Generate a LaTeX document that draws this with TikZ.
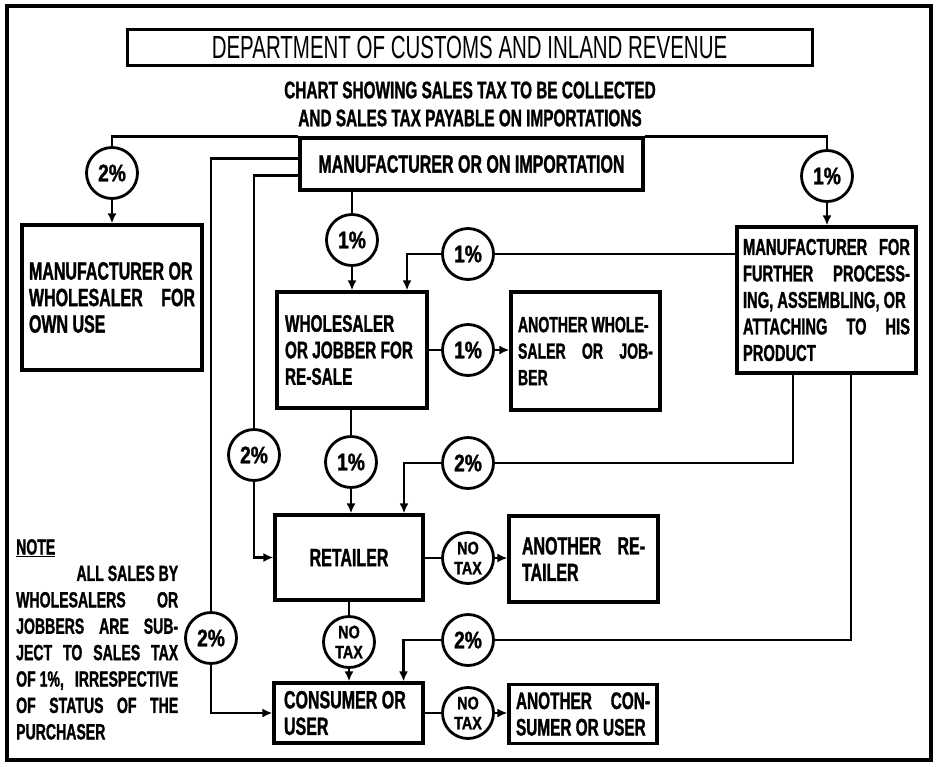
\documentclass[tikz,border=0pt]{standalone}
\usepackage{fontspec}
\setmainfont{Liberation Sans}[FakeStretch=0.64,BoldFeatures={FakeBold=1.2}]
\newfontfamily\ratefont{Liberation Sans}[FakeStretch=0.8,BoldFeatures={FakeBold=1.2}]
\usepackage{tikz}
\usetikzlibrary{arrows.meta,positioning,calc}

\newcommand{\boxfont}[1]{\fontsize{#1}{26.5}\selectfont\bfseries}

\tikzset{
	box/.style={draw,line width=3.2pt,inner ysep=0pt,align=flush left},
	rate/.style={circle,draw,line width=2.8pt,minimum size=51pt,inner sep=0pt,
		font=\ratefont\bfseries\fontsize{24}{24}\selectfont},
	notax/.style={rate,align=center,font=\ratefont\bfseries\fontsize{18}{20}\selectfont},
	link/.style={line width=2.8pt},
	arr/.style={link,-{Latex[length=10pt,width=9pt]}}
}

\begin{document}
\begin{tikzpicture}[x=1pt,y=-1pt]
	\useasboundingbox (0,0) rectangle (937,766);
	\draw[line width=4pt] (7,6) rectangle (931,760);
	
	% heading
	\node[draw,line width=3pt,minimum width=685pt,minimum height=36pt,
		font=\fontsize{32}{32}\selectfont] (title) at (469.5,47) {DEPARTMENT OF CUSTOMS AND INLAND REVENUE};
	\node[align=center,font=\fontsize{24}{28}\selectfont\bfseries] (sub) at (470,104)
		{CHART SHOWING SALES TAX TO BE COLLECTED\\AND SALES TAX PAYABLE ON IMPORTATIONS};
	
	% boxes
	\node[box,align=center,minimum width=343pt,minimum height=52pt,font=\boxfont{25}] (mfr) at (471.5,164)
		{MANUFACTURER OR ON IMPORTATION};
	\node[box,text width=166pt,inner xsep=7pt,minimum height=145pt,font=\boxfont{25}] (own) at (112,297.5)
		{MANUFACTURER OR\\WHOLESALER\hfill FOR\\OWN USE};
	\node[box,text width=134pt,inner xsep=8pt,minimum height=116pt,font=\boxfont{24}] (ws) at (352,350)
		{WHOLESALER\\OR JOBBER FOR\\RE-SALE};
	\node[box,text width=135pt,inner xsep=7pt,minimum height=118pt,font=\boxfont{22}] (aw) at (585.5,351)
		{ANOTHER WHOLE-\\SALER\hfill OR\hfill JOB-\\BER};
	\node[box,text width=167pt,inner xsep=6pt,minimum height=146pt,font=\boxfont{23}] (proc) at (826.5,300)
		{MANUFACTURER\hfill FOR\\FURTHER\hfill PROCESS-\\ING, ASSEMBLING, OR\\ATTACHING\hfill TO\hfill HIS\\PRODUCT};
	\node[box,align=center,minimum width=148pt,minimum height=85pt,font=\boxfont{25}] (ret) at (349,557.5)
		{RETAILER};
	\node[box,text width=123pt,inner xsep=13pt,minimum height=86pt,font=\boxfont{25}] (ar) at (583.5,559)
		{ANOTHER\hfill RE-\\TAILER};
	\node[box,text width=129pt,inner xsep=10pt,minimum height=60pt,font=\boxfont{25}] (cons) at (348.5,713)
		{CONSUMER OR\\USER};
	\node[box,text width=134pt,inner xsep=7pt,minimum height=59pt,font=\boxfont{24}] (acons) at (583,714)
		{ANOTHER\hfill CON-\\SUMER OR USER};
	
	% rates
	\node[rate] (c2own) at (112,173) {2\%};
	\node[rate] (c1proc) at (827,176) {1\%};
	\node[rate] (c1ws) at (352,240) {1\%};
	\node[rate] (c1fp) at (468,254) {1\%};
	\node[rate] (c1aw) at (468,350) {1\%};
	\node[rate] (c2near) at (254,455) {2\%};
	\node[rate] (c1ret) at (351,462) {1\%};
	\node[rate] (c2ret) at (468,463) {2\%};
	\node[notax] (ntret) at (468,558) {NO\\TAX};
	\node[rate] (c2far) at (211,638) {2\%};
	\node[notax] (ntcons) at (349,642) {NO\\TAX};
	\node[rate] (c2cons) at (468,640) {2\%};
	\node[notax] (ntcc) at (468,713) {NO\\TAX};
	
	% connectors from the top
	\draw[link] (mfr.north west) -| (c2own.north);
	\draw[arr] (c2own.south) -- (c2own.south |- own.north);
	\draw[link] (mfr.north east) -| (c1proc.north);
	\draw[arr] (c1proc.south) -- (c1proc.south |- proc.north);
	\draw[link] (mfr.south -| c1ws) -- (c1ws.north);
	\draw[arr] (c1ws.south) -- (c1ws.south |- ws.north);
	\draw[link] ([yshift=-22pt]mfr.north west) -| (c2far.north);
	\draw[arr] (c2far.south) |- (cons.west);
	\draw[link] ([yshift=-39pt]mfr.north west) -| (c2near.north);
	\draw[arr] (c2near.south) |- (ret.west);
	
	% wholesaler
	\draw[link] (proc.west |- c1fp) -- (c1fp.east);
	\draw[arr] (c1fp.west) -| ([xshift=55pt]ws.north);
	\draw[link] (ws.east |- c1aw) -- (c1aw.west);
	\draw[arr] (c1aw.east) -- (c1aw.east -| aw.west);
	\draw[link] (ws.south -| c1ret) -- (c1ret.north);
	\draw[arr] (c1ret.south) -- (c1ret.south |- ret.north);
	
	% retailer
	\draw[link] (c2ret.east) -| ([xshift=-33.5pt]proc.south);
	\draw[arr] (c2ret.west) -| ([xshift=55pt]ret.north);
	\draw[link] (ret.east |- ntret) -- (ntret.west);
	\draw[arr] (ntret.east) -- (ntret.east -| ar.west);
	\draw[link] (ret.south -| ntcons) -- (ntcons.north);
	\draw[arr] (ntcons.south) -- (ntcons.south |- cons.north);
	
	% consumer
	\draw[link] (c2cons.east) -| ([xshift=24.5pt]proc.south);
	\draw[arr] (c2cons.west) -| ([xshift=55pt]cons.north);
	\draw[link] (cons.east |- ntcc) -- (ntcc.west);
	\draw[arr] (ntcc.east) -- (ntcc.east -| acons.west);
	
	% note
	\node[anchor=north west,inner sep=0pt,text width=162pt,align=flush left,
		font=\fontsize{22}{26.4}\selectfont\bfseries] (note) at (16,539)
		{\underline{NOTE}\\
		\hspace*{\fill}ALL SALES BY\\
		WHOLESALERS\hfill OR\\
		JOBBERS\hfill ARE\hfill SUB-\\
		JECT\hfill TO\hfill SALES\hfill TAX\\
		OF 1\%,\hfill IRRESPECTIVE\\
		OF\hfill STATUS\hfill OF\hfill THE\\
		PURCHASER};
\end{tikzpicture}
\end{document}
